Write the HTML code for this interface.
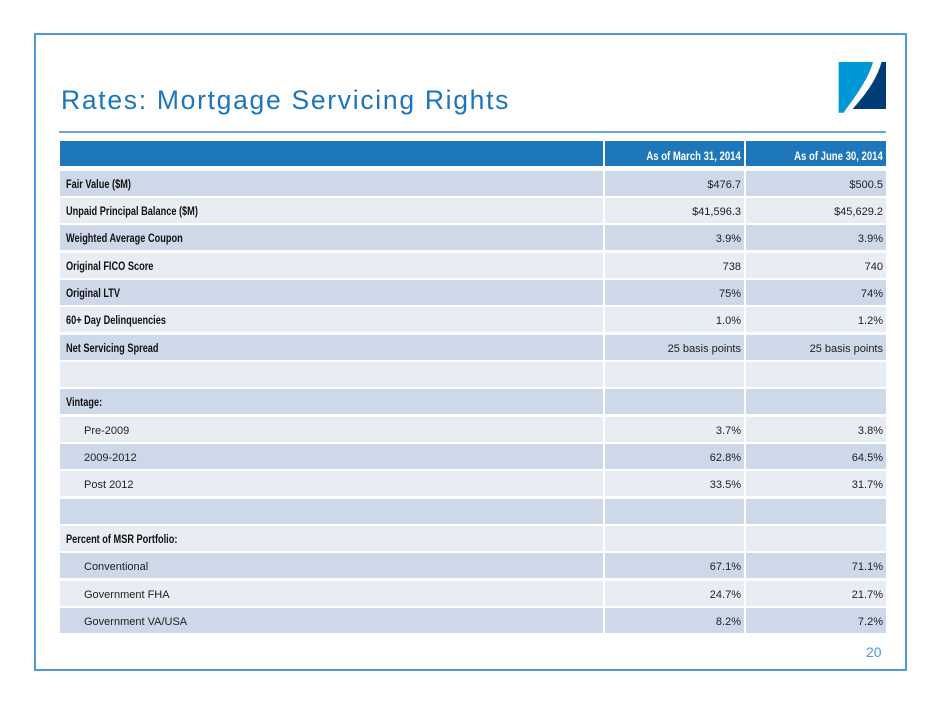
<!DOCTYPE html>
<html><head><meta charset="utf-8">
<style>
html,body{margin:0;padding:0;background:#fff;}
body{width:940px;height:705px;position:relative;overflow:hidden;font-family:"Liberation Sans",sans-serif;}
.frame{position:absolute;left:34px;top:33px;width:869px;height:634px;border:2px solid #5299d3;}
.title{position:absolute;left:61px;top:84px;font-size:26.5px;color:#1c76bf;letter-spacing:1.7px;white-space:nowrap;line-height:32px;}
.rule{position:absolute;left:59px;top:131px;width:827px;height:2px;background:#6aa6d8;}
.row{position:absolute;left:60px;height:25px;}
.c{position:absolute;top:0;height:100%;box-sizing:border-box;font-size:11px;color:#222;white-space:nowrap;}
.c1{left:0;width:543px;}
.c2{left:545px;width:139px;text-align:right;padding-right:3px;}
.c3{left:686px;width:140px;text-align:right;padding-right:3px;}
.d .c{background:#cdd8e8;}
.l .c{background:#e8ecf3;}
.h .c{background:#1e76bb;color:#fff;}
.t{position:absolute;top:8px;}
.c1 .t{left:6px;}
.c1 .t.in{left:24px;}
.c2 .t,.c3 .t{right:3px;}
.b{font-weight:bold;font-size:11.5px;display:inline-block;transform:scaleX(0.8);transform-origin:left center;color:#111;}
.hb{font-weight:bold;font-size:11.5px;display:inline-block;transform:scaleX(0.83);transform-origin:right center;color:#fff;}
.pg{position:absolute;left:866px;top:644px;font-size:14px;color:#4a9ad6;}
</style></head><body>
<div class="frame"></div>
<div class="title">Rates: Mortgage Servicing Rights</div>
<svg style="position:absolute;left:838px;top:61px" width="50" height="53" viewBox="0 0 50 53">
  <path d="M0.7 1 L35 1 C31 16 20 32 5.5 51.7 L0.7 51.7 Z" fill="#0097d6"/>
  <path d="M43.5 1 L48 1 L48 48 L14.7 48 C28 33 39 18 43.5 1 Z" fill="#003c78"/>
</svg>
<div class="rule"></div>

<div class="row h" style="top:141px"><div class="c c1"></div><div class="c c2"><span class="t" style="top:10px"><span class="hb">As of March 31, 2014</span></span></div><div class="c c3"><span class="t" style="top:10px"><span class="hb">As of June 30, 2014</span></span></div></div>

<div class="row d" style="top:170.5px"><div class="c c1"><span class="t"><span class="b">Fair Value ($M)</span></span></div><div class="c c2"><span class="t">$476.7</span></div><div class="c c3"><span class="t">$500.5</span></div></div>
<div class="row l" style="top:197.85px"><div class="c c1"><span class="t"><span class="b">Unpaid Principal Balance ($M)</span></span></div><div class="c c2"><span class="t">$41,596.3</span></div><div class="c c3"><span class="t">$45,629.2</span></div></div>
<div class="row d" style="top:225.2px"><div class="c c1"><span class="t"><span class="b">Weighted Average Coupon</span></span></div><div class="c c2"><span class="t">3.9%</span></div><div class="c c3"><span class="t">3.9%</span></div></div>
<div class="row l" style="top:252.55px"><div class="c c1"><span class="t"><span class="b">Original FICO Score</span></span></div><div class="c c2"><span class="t">738</span></div><div class="c c3"><span class="t">740</span></div></div>
<div class="row d" style="top:279.9px"><div class="c c1"><span class="t"><span class="b">Original LTV</span></span></div><div class="c c2"><span class="t">75%</span></div><div class="c c3"><span class="t">74%</span></div></div>
<div class="row l" style="top:307.25px"><div class="c c1"><span class="t"><span class="b">60+ Day Delinquencies</span></span></div><div class="c c2"><span class="t">1.0%</span></div><div class="c c3"><span class="t">1.2%</span></div></div>
<div class="row d" style="top:334.6px"><div class="c c1"><span class="t"><span class="b">Net Servicing Spread</span></span></div><div class="c c2"><span class="t">25 basis points</span></div><div class="c c3"><span class="t">25 basis points</span></div></div>
<div class="row l" style="top:361.95px"><div class="c c1"></div><div class="c c2"></div><div class="c c3"></div></div>
<div class="row d" style="top:389.3px"><div class="c c1"><span class="t"><span class="b">Vintage:</span></span></div><div class="c c2"></div><div class="c c3"></div></div>
<div class="row l" style="top:416.65px"><div class="c c1"><span class="t in">Pre-2009</span></div><div class="c c2"><span class="t">3.7%</span></div><div class="c c3"><span class="t">3.8%</span></div></div>
<div class="row d" style="top:444px"><div class="c c1"><span class="t in">2009-2012</span></div><div class="c c2"><span class="t">62.8%</span></div><div class="c c3"><span class="t">64.5%</span></div></div>
<div class="row l" style="top:471.35px"><div class="c c1"><span class="t in">Post 2012</span></div><div class="c c2"><span class="t">33.5%</span></div><div class="c c3"><span class="t">31.7%</span></div></div>
<div class="row d" style="top:498.7px"><div class="c c1"></div><div class="c c2"></div><div class="c c3"></div></div>
<div class="row l" style="top:526.05px"><div class="c c1"><span class="t"><span class="b">Percent of MSR Portfolio:</span></span></div><div class="c c2"></div><div class="c c3"></div></div>
<div class="row d" style="top:553.4px"><div class="c c1"><span class="t in">Conventional</span></div><div class="c c2"><span class="t">67.1%</span></div><div class="c c3"><span class="t">71.1%</span></div></div>
<div class="row l" style="top:580.75px"><div class="c c1"><span class="t in">Government FHA</span></div><div class="c c2"><span class="t">24.7%</span></div><div class="c c3"><span class="t">21.7%</span></div></div>
<div class="row d" style="top:608.1px"><div class="c c1"><span class="t in">Government VA/USA</span></div><div class="c c2"><span class="t">8.2%</span></div><div class="c c3"><span class="t">7.2%</span></div></div>

<div class="pg">20</div>
</body></html>
